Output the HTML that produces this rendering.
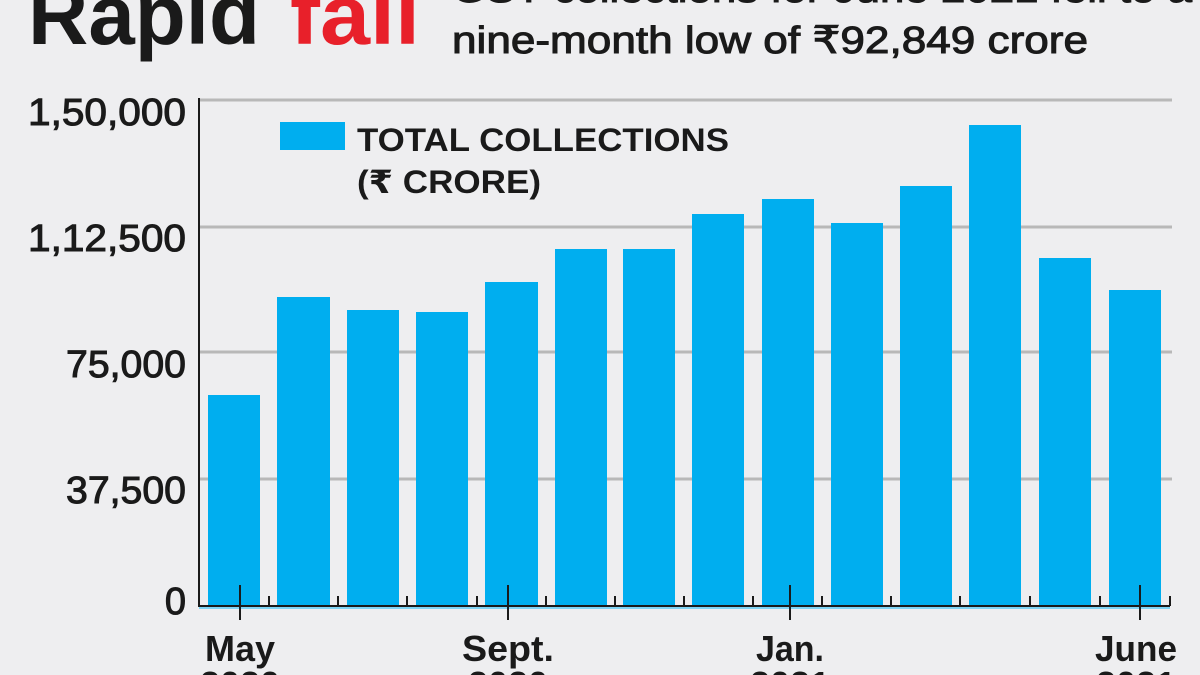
<!DOCTYPE html>
<html><head><meta charset="utf-8"><style>
html,body{margin:0;padding:0;background:#eeeef0;}
svg{display:block}
text{font-family:"Liberation Sans","DejaVu Sans",sans-serif;}
</style></head><body>
<svg width="1200" height="675" viewBox="0 0 1200 675">
<rect width="1200" height="675" fill="#eeeef0"/>
<g font-weight="bold">
<text x="28" y="44" font-size="84" fill="#1a1a1a" textLength="232" lengthAdjust="spacingAndGlyphs">Rapid</text>
<text x="290" y="44" font-size="84" fill="#e8202a" textLength="130" lengthAdjust="spacingAndGlyphs">fall</text>
</g>
<g fill="#1a1a1a" stroke="#1a1a1a" stroke-width="1">
<text x="452" y="2" font-size="38" textLength="740" lengthAdjust="spacingAndGlyphs">GST collections for June 2021 fell to a</text>
<text x="452" y="53" font-size="38" textLength="636" lengthAdjust="spacingAndGlyphs">nine-month low of ₹92,849 crore</text>
</g>
<g stroke="#b8b8b8" stroke-width="3">
<line x1="199" y1="100" x2="1172" y2="100"/>
<line x1="199" y1="227" x2="1172" y2="227"/>
<line x1="199" y1="352" x2="1172" y2="352"/>
<line x1="199" y1="479" x2="1172" y2="479"/>
</g>
<line x1="199" y1="98" x2="199" y2="607" stroke="#1a1a1a" stroke-width="2"/>
<g font-size="38" fill="#1a1a1a" stroke="#1a1a1a" stroke-width="1" text-anchor="end">
<text x="186" y="125" textLength="158" lengthAdjust="spacingAndGlyphs">1,50,000</text>
<text x="186" y="251" textLength="158" lengthAdjust="spacingAndGlyphs">1,12,500</text>
<text x="186" y="377" textLength="120" lengthAdjust="spacingAndGlyphs">75,000</text>
<text x="186" y="503" textLength="120" lengthAdjust="spacingAndGlyphs">37,500</text>
<text x="186" y="614">0</text>
</g>
<g fill="#00aeef">
<rect x="208" y="395" width="52" height="211"/>
<rect x="277" y="297" width="53" height="309"/>
<rect x="347" y="310" width="52" height="296"/>
<rect x="416" y="312" width="52" height="294"/>
<rect x="485" y="282" width="53" height="324"/>
<rect x="555" y="249" width="52" height="357"/>
<rect x="623" y="249" width="52" height="357"/>
<rect x="692" y="214" width="52" height="392"/>
<rect x="762" y="199" width="52" height="407"/>
<rect x="831" y="223" width="52" height="383"/>
<rect x="900" y="186" width="52" height="420"/>
<rect x="969" y="125" width="52" height="481"/>
<rect x="1039" y="258" width="52" height="348"/>
<rect x="1109" y="290" width="52" height="316"/>
</g>
<line x1="199" y1="606" x2="1170" y2="606" stroke="#1a1a1a" stroke-width="2"/>
<line x1="199" y1="608" x2="1170" y2="608" stroke="#7fd4f5" stroke-width="2"/>
<g stroke="#1a1a1a" stroke-width="2">
<line x1="269" y1="596" x2="269" y2="606"/><line x1="338" y1="596" x2="338" y2="606"/>
<line x1="407" y1="596" x2="407" y2="606"/><line x1="477" y1="596" x2="477" y2="606"/>
<line x1="546" y1="596" x2="546" y2="606"/><line x1="615" y1="596" x2="615" y2="606"/>
<line x1="684" y1="596" x2="684" y2="606"/><line x1="753" y1="596" x2="753" y2="606"/>
<line x1="822" y1="596" x2="822" y2="606"/><line x1="891" y1="596" x2="891" y2="606"/>
<line x1="960" y1="596" x2="960" y2="606"/><line x1="1030" y1="596" x2="1030" y2="606"/>
<line x1="1100" y1="596" x2="1100" y2="606"/><line x1="1170" y1="596" x2="1170" y2="606"/>
<line x1="240" y1="585" x2="240" y2="620"/><line x1="508" y1="585" x2="508" y2="620"/>
<line x1="790" y1="585" x2="790" y2="620"/><line x1="1140" y1="585" x2="1140" y2="620"/>
</g>
<g font-size="36" font-weight="bold" fill="#1a1a1a" text-anchor="middle">
<text x="240" y="661" textLength="70" lengthAdjust="spacingAndGlyphs">May</text>
<text x="508" y="661" textLength="92" lengthAdjust="spacingAndGlyphs">Sept.</text>
<text x="790" y="661" textLength="68" lengthAdjust="spacingAndGlyphs">Jan.</text>
<text x="1136" y="661" textLength="82" lengthAdjust="spacingAndGlyphs">June</text>
<text x="240" y="697" textLength="80" lengthAdjust="spacingAndGlyphs">2020</text><text x="508" y="697" textLength="80" lengthAdjust="spacingAndGlyphs">2020</text>
<text x="790" y="697" textLength="80" lengthAdjust="spacingAndGlyphs">2021</text><text x="1136" y="697" textLength="80" lengthAdjust="spacingAndGlyphs">2021</text>
</g>
<rect x="280" y="122" width="65" height="28" fill="#00aeef"/>
<g font-size="32" font-weight="bold" fill="#1a1a1a">
<text x="357" y="151" textLength="372" lengthAdjust="spacingAndGlyphs">TOTAL COLLECTIONS</text>
<text x="357" y="193" textLength="184" lengthAdjust="spacingAndGlyphs">(₹ CRORE)</text>
</g>
</svg>
</body></html>
